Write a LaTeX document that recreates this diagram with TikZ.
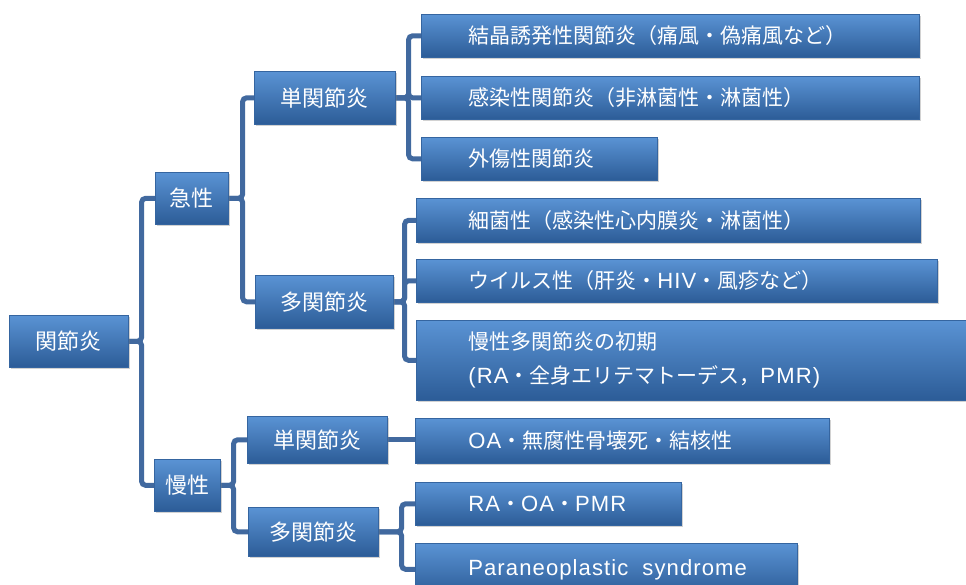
\documentclass[tikz,border=0pt]{standalone}
\usepackage{fontspec}
\setmainfont{Noto Sans CJK JP}
\newfontfamily\lat{Liberation Sans}[Scale=1.05,LetterSpace=5]
\usetikzlibrary{shadows,backgrounds}
\definecolor{btop}{HTML}{5A93D4}
\definecolor{bmid}{HTML}{3D76BB}
\definecolor{bbot}{HTML}{2C5C97}
\definecolor{bline}{HTML}{3565A0}
\definecolor{connc}{HTML}{41699F}
\newcommand\oneline[1]{\mbox{#1}}
\newcommand\la[1]{{\lat #1}}
\begin{document}
\begin{tikzpicture}[x=1pt,y=-1pt,
  box/.style={draw=bline, line width=0.6pt, top color=btop, middle color=bmid, bottom color=bbot,
    drop shadow={shadow xshift=1.5pt, shadow yshift=-2pt, opacity=0.35},
    text=white, anchor=north west, inner sep=0pt},
  mid/.style 2 args={box, minimum width=#1, minimum height=#2, font=\fontsize{22}{26}\selectfont},
  leaf/.style={box, align=left, font=\fontsize{21}{34}\selectfont},
  link/.style={draw=connc, line width=5pt, rounded corners=4pt}]
\path[use as bounding box] (0,0) rectangle (966,584);
\clip (0,0) rectangle (966,584);

\node[mid={119}{52}] (root) at (9,315) {関節炎};
\node[mid={73}{52}] (acute) at (155,172) {急性};
\node[mid={66}{52}] (chron) at (154,459) {慢性};
\node[mid={141}{53}] (a1) at (254,71) {単関節炎};
\node[mid={138}{53}] (a2) at (255,275) {多関節炎};
\node[mid={140}{47}] (c1) at (247,416) {単関節炎};
\node[mid={130}{49}] (c2) at (248,507) {多関節炎};

\node[leaf, text width=404pt, inner xsep=47pt, minimum height=43pt] (l1) at (421,14) {\oneline{結晶誘発性関節炎（痛風・偽痛風など）}};
\node[leaf, text width=404pt, inner xsep=47pt, minimum height=43pt] (l2) at (421,76) {\oneline{感染性関節炎（非淋菌性・淋菌性）}};
\node[leaf, text width=142pt, inner xsep=47pt, minimum height=43pt] (l3) at (421,137) {\oneline{外傷性関節炎}};
\node[leaf, text width=400pt, inner xsep=52pt, minimum height=44pt] (l4) at (416,198) {\oneline{細菌性（感染性心内膜炎・淋菌性）}};
\node[leaf, text width=417pt, inner xsep=52pt, minimum height=43pt] (l5) at (416,259) {\oneline{ウイルス性（肝炎・\la{HIV}・風疹など）}};
\node[leaf, text width=466pt, inner xsep=52pt, minimum height=80pt] (l6) at (416,320) {慢性多関節炎の初期\\\la{(RA}・全身エリテマトーデス，\la{PMR)}};
\node[leaf, text width=308pt, inner xsep=53pt, minimum height=45pt] (l7) at (415,418) {\oneline{\la{OA}・無腐性骨壊死・結核性}};
\node[leaf, text width=160pt, inner xsep=53pt, minimum height=43pt] (l8) at (415,482) {\oneline{\la{RA}・\la{OA}・\la{PMR}}};
\node[leaf, text width=276pt, inner xsep=53pt, minimum height=52pt] (l9) at (415,543) {\oneline{\la{Paraneoplastic\ \ syndrome}}};

\begin{scope}[on background layer]
\fill[white] (0,0) rectangle (966,584);
\draw[link] (root.east) -- ++(13,0) |- (acute.west);
\draw[link] (root.east) -- ++(13,0) |- (chron.west);
\draw[link] (acute.east) -- ++(14,0) |- (a1.west);
\draw[link] (acute.east) -- ++(14,0) |- (a2.west);
\draw[link] (chron.east) -- ++(13,0) |- (c1.west);
\draw[link] (chron.east) -- ++(13,0) |- (c2.west);
\draw[link] (a1.east) -- ++(13,0) |- (l1.west);
\draw[link] (a1.east) -- ++(13,0) |- (l2.west);
\draw[link] (a1.east) -- ++(13,0) |- (l3.west);
\draw[link] (a2.east) -- ++(11,0) |- (l4.west);
\draw[link] (a2.east) -- ++(11,0) |- (l5.west);
\draw[link] (a2.east) -- ++(11,0) |- (l6.west);
\draw[link] (c1.east) -- (c1.east -| l7.west);
\draw[link] (c2.east) -- ++(23,0) |- (l8.west);
\draw[link] (c2.east) -- ++(23,0) |- (l9.west);
\end{scope}
\end{tikzpicture}
\end{document}
